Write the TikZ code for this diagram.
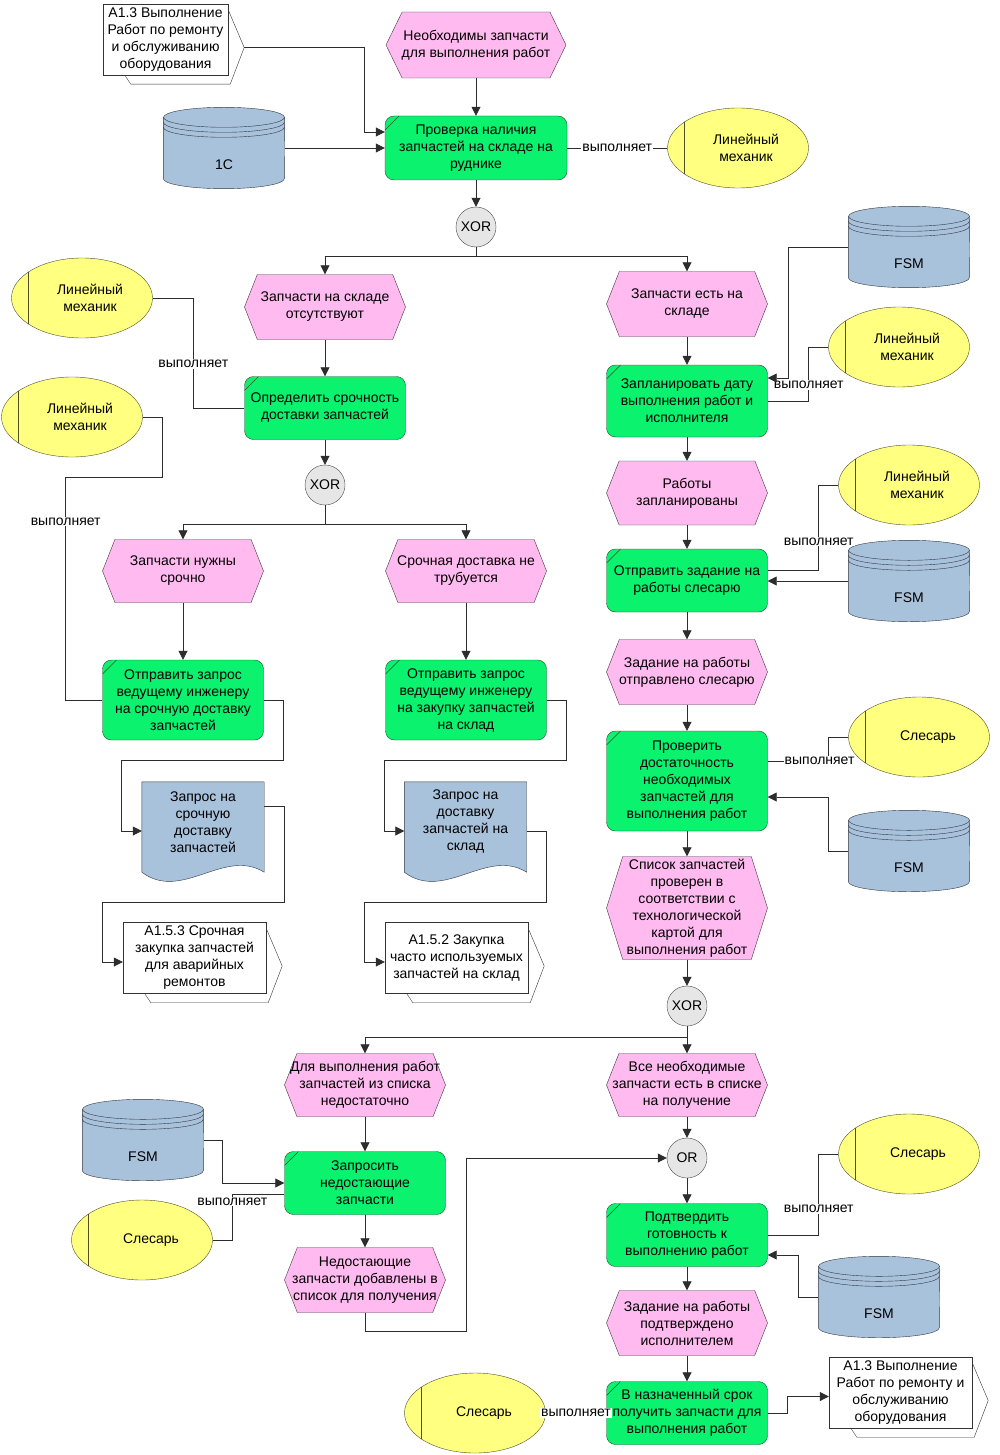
\documentclass[tikz,border=0pt]{standalone}
\usepackage{fontspec}
\setmainfont{Liberation Sans}
\usetikzlibrary{shapes.geometric,shapes.symbols,arrows.meta,backgrounds}

\definecolor{evfill}{RGB}{255,187,240}
\definecolor{evline}{RGB}{70,50,70}
\definecolor{fnfill}{RGB}{10,242,110}
\definecolor{fnline}{RGB}{30,80,45}
\definecolor{rolefill}{RGB}{255,255,128}
\definecolor{roleline}{RGB}{80,80,40}
\definecolor{dbfill}{RGB}{168,194,220}
\definecolor{dbline}{RGB}{50,55,65}
\definecolor{gatefill}{RGB}{230,230,230}
\definecolor{wire}{RGB}{45,45,45}

\newcommand{\dbshape}[1]{%
  \filldraw[draw=dbline,fill=dbfill] ([yshift=-10pt]#1.north west) -- ([yshift=10pt]#1.south west)
    arc[start angle=180,end angle=360,x radius=60.5pt,y radius=10pt] -- ([yshift=-10pt]#1.north east) -- cycle;
  \filldraw[draw=dbline,fill=dbfill] ([yshift=-10pt]#1.north) ellipse[x radius=60.5pt,y radius=10pt];
  \draw[dbline] ([yshift=-15pt]#1.north west) arc[start angle=180,end angle=360,x radius=60.5pt,y radius=10pt];
  \draw[dbline] ([yshift=-20pt]#1.north west) arc[start angle=180,end angle=360,x radius=60.5pt,y radius=10pt];}
\newcommand{\docshape}[1]{%
  \filldraw[draw=dbline,fill=dbfill] ([yshift=-10pt]#1.south east) -- (#1.north east) -- (#1.north west) -- ([yshift=-10pt]#1.south west)
    .. controls +(40pt,-30pt) and +(-40pt,25pt) .. ([yshift=-10pt]#1.south east) -- cycle;}
\newcommand{\ifaceback}[1]{%
  \filldraw[draw=black!80,fill=white] ([yshift=-6pt]#1.north east) -- ([xshift=16pt,yshift=-8pt]#1.east)
    -- ([xshift=2pt,yshift=-9pt]#1.south east) -- ([xshift=28pt,yshift=-9pt]#1.south west) -- ([xshift=22pt]#1.south west);
  \coordinate (#1tip) at ([xshift=16pt,yshift=-8pt]#1.east);}

\begin{document}
\begin{tikzpicture}[x=1pt,y=-1pt,
    every node/.style={font=\fontsize{14}{17}\selectfont,align=center,inner sep=0pt},
    ev/.style={signal,signal to=east and west,signal pointer angle=137,draw=evline,fill=evfill,
      minimum width=161pt,minimum height=64pt,inner xsep=-8pt},
    fn/.style={rectangle,rounded corners=9pt,draw=fnline,fill=fnfill,minimum width=161pt,minimum height=63pt,
      path picture={\draw[fnline] ([yshift=-14pt]path picture bounding box.north west) -- ([xshift=14pt]path picture bounding box.north west);}},
    gate/.style={circle,draw=black!70,fill=gatefill,minimum size=40pt},
    role/.style={ellipse,draw=roleline,fill=rolefill,minimum width=141pt,minimum height=80pt,
      path picture={\draw[roleline] ([xshift=17pt]path picture bounding box.north west) -- ([xshift=17pt]path picture bounding box.south west);}},
    rolename/.style={xshift=8pt},
    dbase/.style={rectangle,minimum width=121pt,minimum height=81pt},
    dbname/.style={yshift=-17pt},
    doc/.style={rectangle,minimum width=122pt,minimum height=80pt},
    iface/.style={rectangle,draw=black!80,fill=white,minimum width=143pt,minimum height=71pt},
    flow/.style={draw=wire,line width=0.8pt,-{Triangle[length=9pt,width=9pt]}},
    link/.style={draw=wire,line width=0.8pt},
    linktext/.style={fill=white,inner sep=1pt}]
  \useasboundingbox (0,0) rectangle (1000,1455);

  \node[ev,minimum width=180pt,minimum height=66pt,signal pointer angle=128] (evneed) at (476,45) {Необходимы запчасти\\для выполнения работ};
  \node[iface,minimum width=125pt] (iftop) at (165.5,39.5) {A1.3 Выполнение\\Работ по ремонту\\и обслуживанию\\оборудования};
  \node[dbase,label={[dbname]center:1С}] (db1c) at (224,148) {};
  \node[fn,minimum width=182pt,minimum height=64pt] (fncheck) at (476,148) {Проверка наличия\\запчастей на складе на\\руднике};
  \node[role,label={[rolename]center:Линейный\\механик}] (mech1) at (738,148) {};
  \node[gate] (xor1) at (476,227) {XOR};

  \node[ev,minimum height=65pt] (evabsent) at (325,307) {Запчасти на складе\\отсутствуют};
  \node[ev,minimum height=65pt] (evinstock) at (687,304) {Запчасти есть на\\складе};
  \node[role,label={[rolename]center:Линейный\\механик}] (mech2) at (82,298) {};
  \node[fn] (fnurgency) at (325,408) {Определить срочность\\доставки запчастей};
  \node[gate] (xor2) at (325,485) {XOR};
  \node[role,label={[rolename]center:Линейный\\механик}] (mech3) at (72,417) {};
  \node[ev,minimum height=63pt] (evurgent) at (183,571) {Запчасти нужны\\срочно};
  \node[ev,minimum height=63pt] (evnoturgent) at (466,571) {Срочная доставка не\\трубуется};
  \node[fn,minimum height=80pt] (fnreq1) at (183,700) {Отправить запрос\\ведущему инженеру\\на срочную доставку\\запчастей};
  \node[fn,minimum height=80pt] (fnreq2) at (466,700) {Отправить запрос\\ведущему инженеру\\на закупку запчастей\\на склад};
  \node[doc] (doc1) at (203,822) {Запрос на\\срочную\\доставку\\запчастей};
  \node[doc] (doc2) at (465.5,822) {Запрос на\\доставку\\запчастей на\\склад};
  \node[iface] (if2) at (194.5,958) {A1.5.3 Срочная\\закупка запчастей\\для аварийных\\ремонтов};
  \node[iface] (if3) at (456.5,958) {A1.5.2 Закупка\\часто используемых\\запчастей на склад};

  \node[dbase,label={[dbname]center:FSM}] (fsm1) at (909,247) {};
  \node[role,label={[rolename]center:Линейный\\механик}] (mech4) at (899,347) {};
  \node[fn,minimum height=72pt] (fnplan) at (687,401) {Запланировать дату\\выполнения работ и\\исполнителя};
  \node[ev] (evplanned) at (687,493) {Работы\\запланированы};
  \node[role,label={[rolename]center:Линейный\\механик}] (mech5) at (909,485) {};
  \node[fn] (fnsend) at (687,580.5) {Отправить задание на\\работы слесарю};
  \node[dbase,label={[dbname]center:FSM}] (fsm2) at (909,581) {};
  \node[ev,minimum height=65pt] (evsent) at (687,672) {Задание на работы\\отправлено слесарю};
  \node[fn,minimum height=100pt] (fnverify) at (687,781) {Проверить\\достаточность\\необходимых\\запчастей для\\выполнения работ};
  \node[role,label={[rolename,xshift=1pt]center:Слесарь}] (slesar1) at (919,737) {};
  \node[dbase,label={[dbname]center:FSM}] (fsm3) at (909,851) {};
  \node[ev,minimum height=103pt,signal pointer angle=145] (evchecked) at (687,908) {Список запчастей\\проверен в\\соответствии с\\технологической\\картой для\\выполнения работ};
  \node[gate] (xor3) at (687,1006) {XOR};

  \node[ev,minimum height=63pt] (evinsuff) at (365,1085) {Для выполнения работ\\запчастей из списка\\недостаточно};
  \node[ev,minimum height=63pt] (evall) at (687,1085) {Все необходимые\\запчасти есть в списке\\на получение};
  \node[gate] (or1) at (687,1158) {OR};
  \node[dbase,label={[dbname]center:FSM}] (fsm4) at (143,1140) {};
  \node[fn] (fnrequest) at (365,1183) {Запросить\\недостающие\\запчасти};
  \node[role,label={[rolename,xshift=1pt]center:Слесарь}] (slesar2) at (142,1240) {};
  \node[ev,minimum height=65pt] (evadded) at (365,1280) {Недостающие\\запчасти добавлены в\\список для получения};
  \node[role,label={[rolename,xshift=1pt]center:Слесарь}] (slesar3) at (909,1154) {};
  \node[fn] (fnconfirm) at (687,1235) {Подтвердить\\готовность к\\выполнению работ};
  \node[dbase,label={[dbname]center:FSM}] (fsm5) at (879,1297) {};
  \node[ev,minimum height=65pt] (evconfirmed) at (687,1323) {Задание на работы\\подтверждено\\исполнителем};
  \node[fn] (fnreceive) at (687,1413) {В назначенный срок\\получить запчасти для\\выполнения работ};
  \node[role,label={[rolename,xshift=1pt]center:Слесарь}] (slesar4) at (475,1413) {};
  \node[iface] (if4) at (900.5,1392.5) {A1.3 Выполнение\\Работ по ремонту и\\обслуживанию\\оборудования};

  \begin{scope}[on background layer]
    \dbshape{db1c} \dbshape{fsm1} \dbshape{fsm2} \dbshape{fsm3} \dbshape{fsm4} \dbshape{fsm5}
    \docshape{doc1} \docshape{doc2}
    \ifaceback{iftop} \ifaceback{if2} \ifaceback{if3} \ifaceback{if4}
  \end{scope}

  % who does what
  \draw[link] (fncheck.east) -- node[linktext]{выполняет} (mech1.west);
  \draw[link] (mech2.east) -| node[pos=0.8,linktext]{выполняет} ([xshift=-51pt]fnurgency.west) -- (fnurgency.west);
  \draw[link] (mech3.east) -- ++(20,0) -- ++(0,60) -- ++(-97,0) |- node[pos=0.1,linktext]{выполняет} (fnreq1.west);
  \draw[link] (mech4.west) -| node[pos=0.85,linktext]{выполняет} ([xshift=41pt]fnplan.east) -- (fnplan.east);
  \draw[link] (mech5.west) -| node[pos=0.83,linktext]{выполняет} ([xshift=51pt,yshift=10pt]fnsend.east) -- ([yshift=10pt]fnsend.east);
  \draw[link] (slesar1.west) -| ([xshift=61pt,yshift=20pt]fnverify.east) -- node[pos=0.15,linktext]{выполняет} ([yshift=20pt]fnverify.east);
  \draw[link] (slesar2.east) -| node[pos=0.92,linktext]{выполняет} ([xshift=-52pt,yshift=-11pt]fnrequest.west) -- ([yshift=-11pt]fnrequest.west);
  \draw[link] (slesar3.west) -| node[pos=0.84,linktext]{выполняет} ([xshift=51pt]fnconfirm.east) -- (fnconfirm.east);
  \draw[link] (slesar4.east) -- node[linktext]{выполняет} (fnreceive.west);
  \draw[link] (xor1.south) -- ++(0,9) coordinate (split1);
  \draw[link] (xor2.south) -- ++(0,19) coordinate (split2);
  \draw[link] (xor3.south) -- ++(0,11) coordinate (split3);

  \begin{scope}[flow]
    \draw (evneed.south) -- (fncheck.north);
    \draw (iftoptip) -| ([xshift=-20pt,yshift=16pt]fncheck.west) -- ([yshift=16pt]fncheck.west);
    \draw (db1c.east) -- (fncheck.west);
    \draw (fncheck.south) -- (xor1.north);
    \draw (split1) -| (evabsent.north);
    \draw (split1) -| (evinstock.north);
    \draw (evabsent.south) -- (fnurgency.north);
    \draw (fnurgency.south) -- (xor2.north);
    \draw (split2) -| (evurgent.north);
    \draw (split2) -| (evnoturgent.north);
    \draw (evurgent.south) -- (fnreq1.north);
    \draw (evnoturgent.south) -- (fnreq2.north);
    \draw (fnreq1.east) -- ++(20,0) -- ++(0,60) -| ([xshift=-20pt,yshift=-9pt]doc1.west) -- ([yshift=-9pt]doc1.west);
    \draw ([yshift=16pt]doc1.east) -- ++(20,0) -- ++(0,96) -| ([xshift=-20pt,yshift=-4pt]if2.west) -- ([yshift=-4pt]if2.west);
    \draw (fnreq2.east) -- ++(20,0) -- ++(0,60) -| ([xshift=-20pt,yshift=-9pt]doc2.west) -- ([yshift=-9pt]doc2.west);
    \draw ([yshift=-9pt]doc2.east) -- ++(20,0) -- ++(0,71) -| ([xshift=-20pt,yshift=-4pt]if3.west) -- ([yshift=-4pt]if3.west);
    \draw (evinstock.south) -- (fnplan.north);
    \draw (fsm1.west) -| ([xshift=21pt,yshift=23pt]fnplan.east) -- ([yshift=23pt]fnplan.east);
    \draw (fnplan.south) -- (evplanned.north);
    \draw (evplanned.south) -- (fnsend.north);
    \draw (fsm2.west) -- (fsm2.west -| fnsend.east);
    \draw (fnsend.south) -- (evsent.north);
    \draw (evsent.south) -- (fnverify.north);
    \draw (fsm3.west) -| ([xshift=61pt,yshift=-16pt]fnverify.east) -- ([yshift=-16pt]fnverify.east);
    \draw (fnverify.south) -- (evchecked.north);
    \draw (evchecked.south) -- (xor3.north);
    \draw (split3) -| (evinsuff.north);
    \draw (split3) -| (evall.north);
    \draw (evinsuff.south) -- (fnrequest.north);
    \draw (fsm4.east) -| ([xshift=-62pt]fnrequest.west) -- (fnrequest.west);
    \draw (fnrequest.south) -- (evadded.north);
    \draw (evadded.south) -- ++(0,19) -- ++(101,0) |- (or1.west);
    \draw (evall.south) -- (or1.north);
    \draw (or1.south) -- (fnconfirm.north);
    \draw (fsm5.west) -| ([xshift=31pt,yshift=-20pt]fnconfirm.east) -- ([yshift=-20pt]fnconfirm.east);
    \draw (fnconfirm.south) -- (evconfirmed.north);
    \draw (evconfirmed.south) -- (fnreceive.north);
    \draw (fnreceive.east) -- ++(20,0) |- ([yshift=-4pt]if4.west);
  \end{scope}
\end{tikzpicture}
\end{document}
